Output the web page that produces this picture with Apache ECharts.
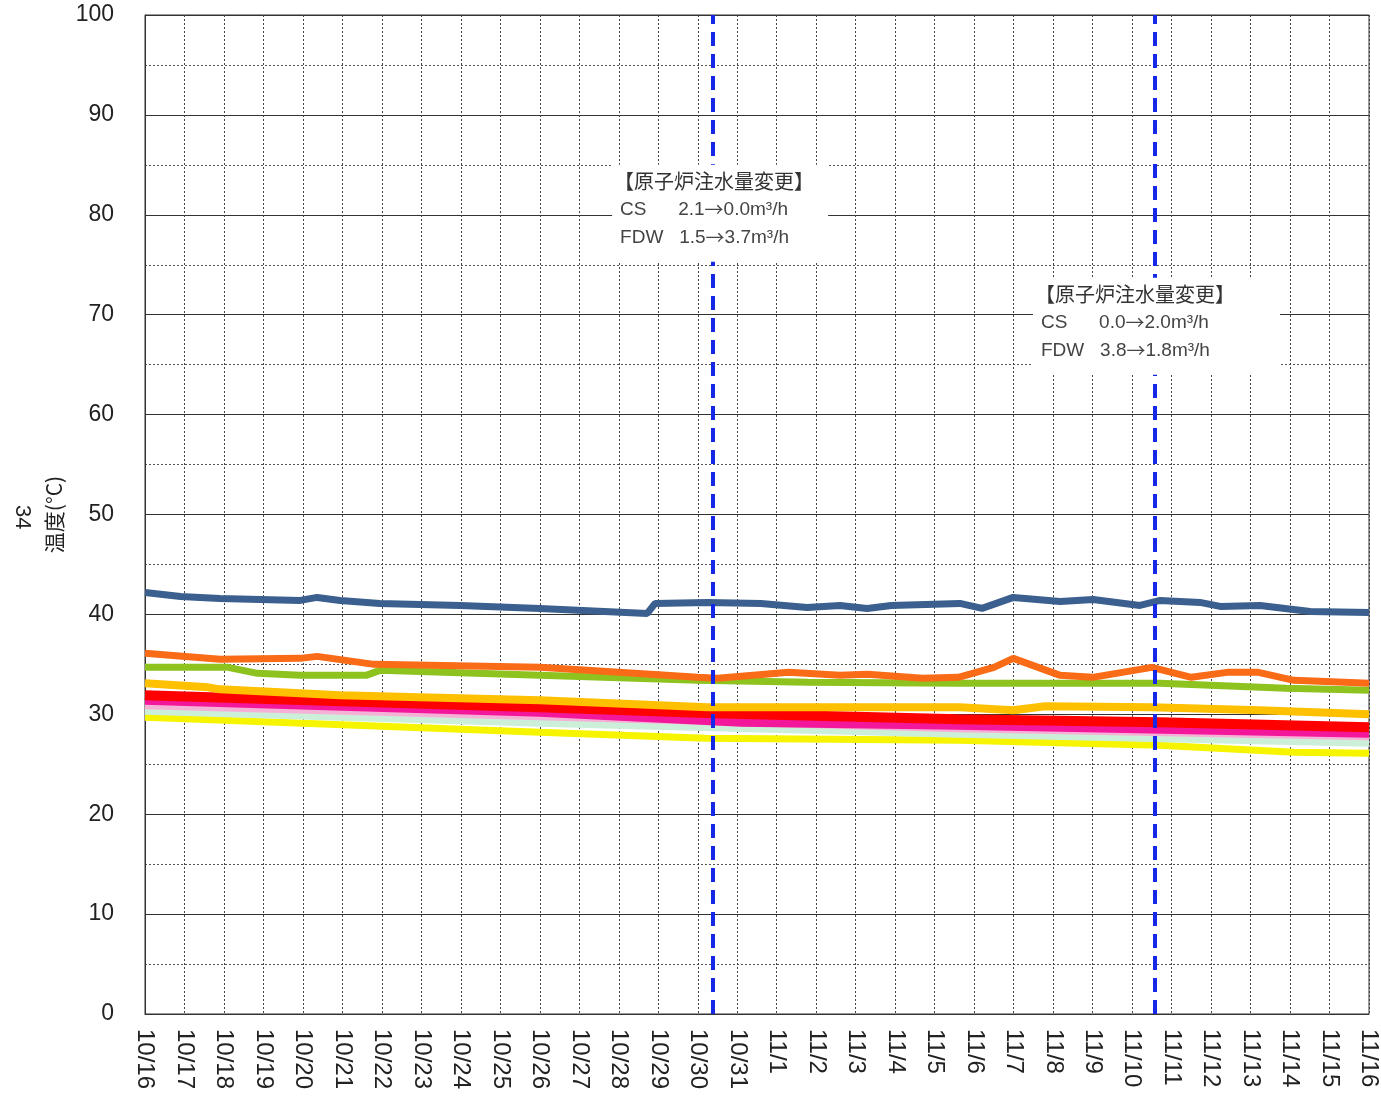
<!DOCTYPE html>
<html>
<head>
<meta charset="utf-8">
<script src="https://cdn.jsdelivr.net/npm/echarts@6/dist/echarts.min.js"></script>
<style>
  html, body { margin: 0; padding: 0; background: #fff; }
  #chart { width: 1381px; height: 1102px; }
</style>
</head>
<body>
<div id="chart"></div>
<script>
// x軸ラベル (10/16 ～ 11/16)
const dateLabels = [
  '10/16','10/17','10/18','10/19','10/20','10/21','10/22','10/23','10/24','10/25',
  '10/26','10/27','10/28','10/29','10/30','10/31','11/1','11/2','11/3','11/4',
  '11/5','11/6','11/7','11/8','11/9','11/10','11/11','11/12','11/13','11/14',
  '11/15','11/16'
];
const yTicks = [0, 10, 20, 30, 40, 50, 60, 70, 80, 90, 100];

// 各系列 [経過日数(10/16=0), 温度]
const blueData = [
  [0, 42.2], [0.9, 41.8], [1.9, 41.6], [3.93, 41.4], [4.36, 41.7], [4.94, 41.4],
  [5.95, 41.1], [7.98, 40.9], [10.0, 40.6], [12.72, 40.1], [12.92, 41.1], [14.24, 41.2],
  [15.6, 41.1], [16.77, 40.7], [17.6, 40.9], [18.29, 40.6], [18.9, 40.9], [20.64, 41.1],
  [21.2, 40.6], [21.99, 41.7], [23.18, 41.3], [24.01, 41.5], [25.2, 40.9], [25.71, 41.4],
  [26.72, 41.2], [27.23, 40.8], [28.24, 40.9], [29.51, 40.3], [31, 40.2]
];
const orangeData = [
  [0, 36.1], [1.9, 35.5], [3.93, 35.6], [4.36, 35.8], [5.8, 35.0], [10.0, 34.7],
  [14.0, 33.7], [14.5, 33.6], [16.3, 34.2], [17.6, 33.9], [18.3, 34.0], [19.7, 33.6],
  [20.6, 33.7], [21.5, 34.7], [21.99, 35.6], [23.18, 33.9], [24.0, 33.7], [25.5, 34.7],
  [26.5, 33.7], [27.4, 34.2], [28.2, 34.2], [29.1, 33.4], [31, 33.1]
];
const greenData = [
  [0, 34.7], [2.1, 34.7], [2.85, 34.1], [3.93, 33.9], [5.6, 33.9], [5.95, 34.4],
  [10.0, 33.9], [14.0, 33.4], [16.8, 33.2], [20.6, 33.1], [25.7, 33.1], [28.9, 32.6],
  [31, 32.4]
];
const goldData = [
  [0, 33.1], [1.6, 32.7], [1.9, 32.5], [4.94, 31.9], [10.0, 31.4], [14.24, 30.7],
  [20.64, 30.7], [21.99, 30.4], [22.8, 30.8], [25.5, 30.7], [28.24, 30.4], [31, 30.0]
];
const redData = [[0, 31.9], [10.0, 30.7], [14.4, 30.1], [20.6, 29.5], [25.7, 29.2], [31, 28.7]];
const magentaData = [[0, 31.4], [10.0, 30.2], [15.1, 29.2], [20.6, 28.9], [31, 28.1]];
const pinkData = [[0, 30.9], [10.0, 29.8], [20.6, 28.6], [31, 27.8]];
const mintData = [[0, 30.4], [10.0, 29.2], [20.6, 28.1], [31, 27.2]];
const yellowData = [[0, 29.7], [10.0, 28.2], [14.2, 27.6], [20.6, 27.4], [25.7, 26.9], [29.1, 26.2], [31, 26.1]];
const darkData = [[0, 29.6], [10.0, 28.0], [20.6, 27.2], [25.7, 26.7], [29.1, 26.0], [31, 25.9]];

// 注水量変更のタイミング
const eventDays = [14.39, 25.58];
const notes = [
  { at: [11.83, 85.0], w: 216, h: 97, title: '【原子炉注水量変更】',
    lines: ['CS      2.1{ar|→}0.0m³/h', 'FDW   1.5{ar|→}3.7m³/h'] },
  { at: [22.49, 73.7], w: 247, h: 97, title: '【原子炉注水量変更】',
    lines: ['CS      0.0{ar|→}2.0m³/h', 'FDW   3.8{ar|→}1.8m³/h'] }
];

const chart = echarts.init(document.getElementById('chart'));

function line(data, color, width, extra) {
  return Object.assign({
    type: 'line',
    data: data,
    symbol: 'none',
    lineStyle: { color: color, width: width },
    silent: true,
    animation: false
  }, extra || {});
}

const option = {
  animation: false,
  grid: { left: 145, right: 12, top: 15, bottom: 88, show: true, borderColor: '#333', borderWidth: 1 },
  xAxis: {
    type: 'value', min: 0, max: 31, interval: 1,
    axisLine: { lineStyle: { color: '#333' } },
    axisTick: { show: false },
    axisLabel: {
      rotate: -90, margin: 15, fontSize: 24, color: '#222', fontFamily: 'Liberation Sans',
      formatter: v => dateLabels[Math.round(v)] || ''
    },
    splitLine: { show: true, lineStyle: { color: '#444', type: [2, 2], width: 1 } }
  },
  yAxis: {
    type: 'value', min: 0, max: 100, interval: 10,
    name: '温度(°C)', nameLocation: 'middle', nameGap: 65,
    nameTextStyle: { fontSize: 21, color: '#222', fontFamily: 'Noto Sans CJK JP' },
    axisLine: { show: true, lineStyle: { color: '#333' } },
    axisTick: { show: false },
    axisLabel: {
      margin: 31, fontSize: 23, color: '#222', fontFamily: 'Liberation Sans',
      formatter: v => yTicks.includes(v) ? String(v) : ''
    },
    splitLine: { show: true, lineStyle: { color: '#333', width: 1 } },
    minorTick: { show: false, splitNumber: 2 },
    minorSplitLine: { show: true, lineStyle: { color: '#555', type: [2, 2], width: 1 } }
  },
  series: [
    line(darkData, '#444', 1, { lineStyle: { color: '#444', width: 1.2, type: [6, 4] } }),
    line(yellowData, '#F7F400', 7),
    line(mintData, '#CCEFD9', 9),
    line(pinkData, '#F6B2D6', 8),
    line(magentaData, '#F2179B', 9),
    line(redData, '#FF0000', 10),
    line(goldData, '#FFC000', 8),
    line(greenData, '#8DC21F', 7),
    line(orangeData, '#F96B17', 7),
    line(blueData, '#3B5F8E', 7, {
      markLine: {
        silent: true,
        symbol: 'none',
        label: { show: false },
        lineStyle: { color: '#1428E6', width: 4, type: [14, 8] },
        data: eventDays.map(d => ({ xAxis: d }))
      }
    })
  ],
  graphic: [
    {
      type: 'text', left: 11, top: 505, rotation: -Math.PI / 2,
      style: { text: '34', fontSize: 22, fill: '#222', fontFamily: 'Liberation Sans' }
    }
  ]
};

chart.setOption(option);

// 注記ボックス（白地で縦線・グリッドを隠す）
const noteGraphics = [];
notes.forEach(n => {
  const p = chart.convertToPixel({ gridIndex: 0 }, n.at);
  noteGraphics.push({
    type: 'rect', z: 100, silent: true,
    shape: { x: p[0], y: p[1], width: n.w, height: n.h },
    style: { fill: '#fff' }
  });
  noteGraphics.push({
    type: 'text', z: 101, silent: true,
    x: p[0] + 2, y: p[1] + 17,
    style: { text: n.title, fontSize: 20, fill: '#333', fontFamily: 'Noto Sans CJK JP', verticalAlign: 'middle' }
  });
  n.lines.forEach((t, i) => {
    noteGraphics.push({
      type: 'text', z: 101, silent: true,
      x: p[0] + 8, y: p[1] + 45 + i * 28,
      style: {
        text: t, fontSize: 19, fill: '#444',
        fontFamily: 'Liberation Sans', verticalAlign: 'middle',
        rich: { ar: { fontFamily: 'Noto Sans CJK JP', fontSize: 19, fill: '#444' } }
      }
    });
  });
});
chart.setOption({ graphic: option.graphic.concat(noteGraphics) });
</script>
</body>
</html>
